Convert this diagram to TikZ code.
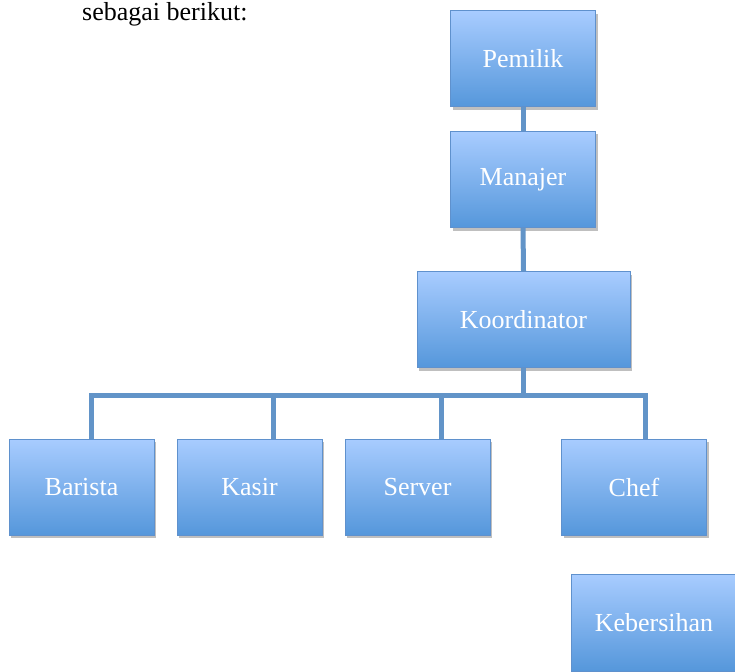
\documentclass[tikz,border=0pt]{standalone}
\usepackage{fontspec}
\setmainfont{Liberation Serif}
\usetikzlibrary{shadows}
\definecolor{boxtop}{RGB}{168,204,255}
\definecolor{boxbot}{RGB}{85,151,219}
\definecolor{boxline}{RGB}{95,145,205}
\definecolor{conn}{RGB}{98,148,200}
\begin{document}
\begin{tikzpicture}[x=1pt,y=-1pt,
  orgbox/.style={draw=boxline, line width=1pt, top color=boxtop, bottom color=boxbot,
    minimum height=96pt, minimum width=145pt, inner sep=0pt, text=white,
    font=\fontsize{26}{30}\selectfont,
    drop shadow={shadow xshift=2pt, shadow yshift=-3pt, opacity=0.25, fill=black}},
  link/.style={draw=conn, line width=5pt}]
\useasboundingbox (0,0) rectangle (735,671);
\node[anchor=base west, inner sep=0pt, font=\fontsize{26}{30}\selectfont] (cap) at (82,20.7) {sebagai berikut:};

\coordinate (bl) at (91,395);
\coordinate (br) at (645,395);
\coordinate (kx) at (273,395);
\coordinate (sx) at (441,395);

\node[orgbox] (P) at (523,59) {Pemilik};
\node[orgbox] (M) at (523,179.5) {Manajer};
\node[orgbox, minimum width=213pt] (K) at (523.5,319.5) {Koordinator};
\node[orgbox] (B) at (81.5,487) {Barista};
\node[orgbox] (Ka) at (249.5,487) {Kasir};
\node[orgbox] (S) at (417.5,487) {Server};
\node[orgbox] (C) at (634,487) {Chef};
\node[orgbox, minimum width=166pt, minimum height=97pt] (Kb) at (654,622.5) {Kebersihan};

\begin{scope}[on background layer/.style={}]
\end{scope}
\draw[link] (P.south) -- (M.north);
\draw[link] (M.south) -- (K.north);
\draw[link] (K.south) -- (K.south |- bl);
\draw[link] (bl |- B.north) -- (bl) -- (br) -- (br |- C.north);
\draw[link] (kx) -- (kx |- Ka.north);
\draw[link] (sx) -- (sx |- S.north);
\end{tikzpicture}
\end{document}
